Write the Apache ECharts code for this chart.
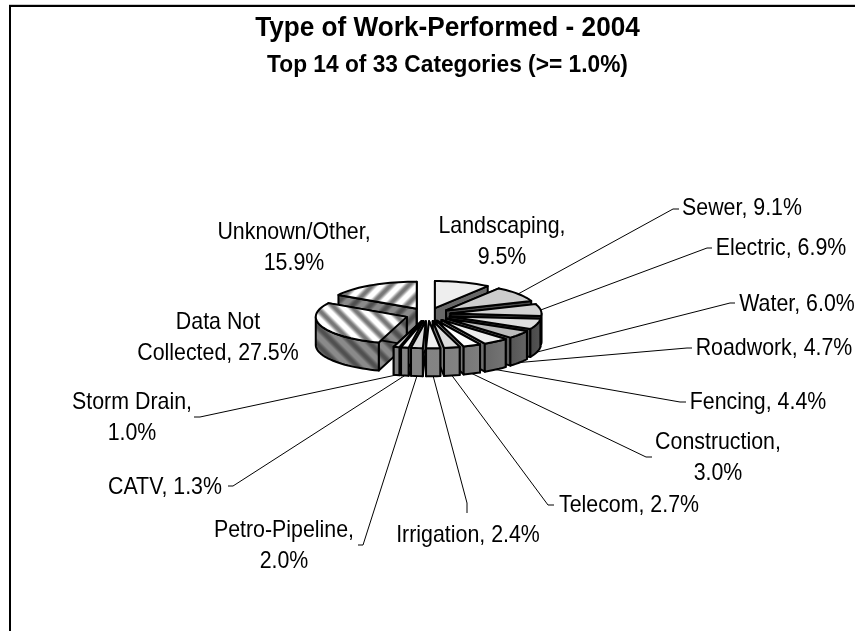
<!DOCTYPE html>
<html><head><meta charset="utf-8">
<style>html,body{margin:0;padding:0;background:#fff}#c{width:855px;height:631px}</style>
<script src="https://cdn.jsdelivr.net/npm/echarts@6/dist/echarts.min.js"></script>
</head><body><div id="c"></div>
<script>
const titleText = 'Type of Work-Performed - 2004';
const subtitleText = 'Top 14 of 33 Categories (>= 1.0%)';
const categories = ['Landscaping','Sewer','Electric','Water','Roadwork','Fencing','Construction','Telecom','Irrigation','Petro-Pipeline','CATV','Storm Drain','Data Not Collected','Unknown/Other'];
const values = [9.5,9.1,6.9,6.0,4.7,4.4,3.0,2.7,2.4,2.0,1.3,1.0,27.5,15.9];

// presentation only
const topFills = ['#eeeeee','#cccccc','#d2d2d2','#dddddd','#bbbbbb','#eeeeee','#ffffff','#dadada','#f2f2f2','#dddddd','#f4f4f4','#cccccc','stripeDown','stripeUp'];
const labelBreaks = ['Landscaping,\n','Sewer, ','Electric, ','Water, ','Roadwork, ','Fencing, ','Construction,\n','Telecom, ','Irrigation, ','Petro-Pipeline,\n','CATV, ','Storm Drain,\n','Data Not\nCollected, ','Unknown/Other,\n'];
const labelX = [502,742,781,797,774,758,718,629,468,284,165,132,218,294];
const labelY = [226,208,248,304,348,402,442,505,535,530,487,402,322,232];
const elbows = [null,[[673,209],[679,209]],[[707,248],[712,248]],[[730,303],[735,303]],[[687,348],[692,348]],[[680,402],[686,402]],[[646,457],[652,457]],[[548,505],[554,505]],[[467,503],[467,513]],[[363,545],[358,545]],[[233,486],[228,486]],[[200,417],[194,417]],null,null];
const pie = {cx:428, cy:314.5, a:91, b:27, explode:22.7, depth:28};
const LINE_H = 31, FONT = '24px "Liberation Sans"', LABEL_SQUEEZE = 0.89;

function stripeTile(dir, lo, hi){
  const P = 18, cv = document.createElement('canvas'); cv.width = P; cv.height = P;
  const g = cv.getContext('2d'), im = g.createImageData(P,P);
  for(let y=0;y<P;y++)for(let x=0;x<P;x++){
    const t = ((dir>0 ? x-y+P : x+y) % P)/P;
    const k = Math.min(1,Math.max(0,0.6+0.65*Math.cos(t*2*Math.PI)));
    const v = Math.round(lo+(hi-lo)*k), i=(y*P+x)*4;
    im.data[i]=im.data[i+1]=im.data[i+2]=v; im.data[i+3]=255;
  }
  g.putImageData(im,0,0);
  return {image:cv, repeat:'repeat'};
}
const patterns = {
  stripeDown:{top:stripeTile(1,120,255), side:stripeTile(1,80,138)},
  stripeUp:{top:stripeTile(-1,120,255), side:stripeTile(-1,80,138)}
};

const total = values.reduce((s,v)=>s+v,0);
let run = 0;
const slices = values.map(v=>{
  const s = run/total*2*Math.PI; run += v;
  const e = run/total*2*Math.PI, m=(s+e)/2;
  return {s,e,m, ox:pie.cx+pie.explode*Math.sin(m), oy:pie.cy-pie.explode*pie.b/pie.a*Math.cos(m)};
});
const pt = (sl,th,d)=>[sl.ox+pie.a*Math.sin(th), sl.oy-pie.b*Math.cos(th)+(d||0)];
const grayAt = th=>{
  const sn=Math.sin(th);
  const g = sn>0 ? 132-60*sn*sn : 132-10*sn*sn;
  return Math.round(g);
};
const hex = g=>'rgb('+g+','+g+','+g+')';
const stroke = {stroke:'#000',lineWidth:2,lineJoin:'round'};

function renderSlice(params){
  const i = params.dataIndex, sl = slices[i], h = pie.depth, kids=[];
  const apex=[sl.ox,sl.oy], apexB=[sl.ox,sl.oy+h];
  const isPat = patterns[topFills[i]];
  const wallFill = th=> isPat ? isPat.side : hex(grayAt(th)-8);
  [sl.s,sl.e].forEach(th=>{
    kids.push({type:'polygon',shape:{points:[apex,pt(sl,th),pt(sl,th,h),apexB]},style:Object.assign({fill:wallFill(th)},stroke)});
  });
  const a0=Math.max(sl.s,Math.PI/2), a1=Math.min(sl.e,3*Math.PI/2);
  if(a1>a0){
    const n=Math.max(2,Math.ceil((a1-a0)/0.05)), up=[], dn=[];
    for(let k=0;k<=n;k++){const th=a0+(a1-a0)*k/n; up.push(pt(sl,th)); dn.unshift(pt(sl,th,h));}
    const fill = isPat ? isPat.side : {type:'linear',x:0,y:0,x2:1,y2:0,colorStops:[{offset:0,color:hex(grayAt(a0))},{offset:1,color:hex(grayAt(a1))}]};
    kids.push({type:'polygon',shape:{points:up.concat(dn)},style:Object.assign({fill},stroke)});
  }
  const n=Math.max(2,Math.ceil((sl.e-sl.s)/0.05)), topPts=[apex];
  for(let k=0;k<=n;k++) topPts.push(pt(sl,sl.s+(sl.e-sl.s)*k/n));
  kids.push({type:'polygon',shape:{points:topPts},style:Object.assign({fill:isPat?isPat.top:topFills[i]},stroke)});
  return {type:'group',children:kids};
}
function renderLabel(params){
  const i = params.dataIndex, kids=[], sl=slices[i];
  if(elbows[i]){
    const front=Math.cos(sl.m)<0;
    const st=pt(sl,sl.m,front?pie.depth:0);
    kids.push({type:'polyline',shape:{points:[st].concat(elbows[i])},style:{stroke:'#000',lineWidth:1,fill:null}});
  }
  kids.push({type:'text',x:labelX[i],y:labelY[i]-LINE_H/2,scaleX:LABEL_SQUEEZE,
    style:{text:labelBreaks[i]+values[i].toFixed(1)+'%',x:0,y:0,
    textAlign:'center',textVerticalAlign:'top',font:FONT,lineHeight:LINE_H,fill:'#000'}});
  return {type:'group',children:kids};
}
const drawOrder = slices.map((s,i)=>i).sort((p,q)=>Math.cos(slices[q].m)-Math.cos(slices[p].m));
const chart = echarts.init(document.getElementById('c'),null,{renderer:'canvas'});
chart.setOption({
  animation:false,
  backgroundColor:'#fff',
  graphic:[
    {type:'rect',shape:{x:9,y:4,width:900,height:1},style:{fill:'#cccccc'},silent:true},
    {type:'rect',shape:{x:10,y:6,width:900,height:700},style:{fill:null,stroke:'#000',lineWidth:2},silent:true},
    {type:'text',x:447.5,y:29,scaleX:0.97,silent:true,style:{text:titleText,x:0,y:0,textAlign:'center',textVerticalAlign:'middle',font:'bold 27px "Liberation Sans"',fill:'#000'}},
    {type:'text',x:447.5,y:65,scaleX:0.947,silent:true,style:{text:subtitleText,x:0,y:0,textAlign:'center',textVerticalAlign:'middle',font:'bold 24px "Liberation Sans"',fill:'#000'}}
  ],
  series:[
    {type:'custom',coordinateSystem:'none',name:'labels',silent:true,z:2,data:values.map((v,i)=>[i,v]),renderItem:renderLabel,encode:{}},
    {type:'custom',coordinateSystem:'none',name:'slices',silent:true,z:3,
     data:drawOrder.map(i=>({value:[i,values[i]],name:categories[i]})),
     renderItem:(p,api)=>renderSlice({dataIndex:api.value(0)}),encode:{}}
  ]
});
</script></body></html>
